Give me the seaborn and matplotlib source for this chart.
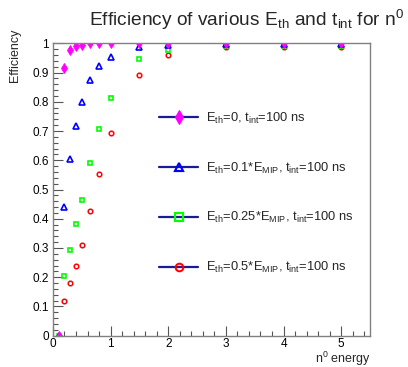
import matplotlib
matplotlib.use("Agg")
import matplotlib.pyplot as plt
from matplotlib.lines import Line2D
from matplotlib.ticker import MultipleLocator, FuncFormatter
import seaborn as sns
import pandas as pd

# neutron energies and efficiencies for each threshold
energy = [0.1, 0.2, 0.3, 0.4, 0.5, 0.65, 0.8, 1.0, 1.5, 2.0, 3.0, 4.0, 5.0]
eff_eth0 = [0.0, 0.914, 0.976, 0.990, 0.995, 1.0, 1.0, 1.0, 1.0, 1.0, 1.0, 1.0, 1.0]
eff_eth01 = [0.0, 0.441, 0.603, 0.717, 0.800, 0.874, 0.921, 0.954, 0.987, 0.995, 0.998, 0.998, 0.998]
eff_eth025 = [0.0, 0.203, 0.293, 0.382, 0.465, 0.590, 0.706, 0.814, 0.946, 0.977, 0.990, 0.990, 0.990]
eff_eth05 = [0.0, 0.118, 0.179, 0.239, 0.310, 0.425, 0.552, 0.693, 0.891, 0.961, 0.986, 0.986, 0.986]

labels = [
    r"E$_{\mathrm{th}}$=0, t$_{\mathrm{int}}$=100 ns",
    r"E$_{\mathrm{th}}$=0.1*E$_{\mathrm{MIP}}$, t$_{\mathrm{int}}$=100 ns",
    r"E$_{\mathrm{th}}$=0.25*E$_{\mathrm{MIP}}$, t$_{\mathrm{int}}$=100 ns",
    r"E$_{\mathrm{th}}$=0.5*E$_{\mathrm{MIP}}$, t$_{\mathrm{int}}$=100 ns",
]

sns.set_theme(style="white")
plt.rcParams["font.family"] = ["Liberation Sans", "DejaVu Sans"]
plt.rcParams["mathtext.fontset"] = "custom"
plt.rcParams["mathtext.rm"] = "Liberation Sans"
plt.rcParams["mathtext.it"] = "Liberation Sans"

frame_col = "#808080"
legend_line = "#1a1a96"

# marker style per series: (marker, colour, filled, size, edge width)
styles = [
    ("d", "#ff00ff", True, 4.8, 0.6),
    ("^", "#0000ff", False, 3.8, 1.2),
    ("s", "#00ff00", False, 3.3, 1.2),
    ("o", "#ff0000", False, 3.3, 1.1),
]
series = [eff_eth0, eff_eth01, eff_eth025, eff_eth05]

fig = plt.figure(figsize=(4.08, 3.67), dpi=100)
ax = fig.add_axes([0.1297, 0.0853, 0.7773, 0.7967])

# draw from the highest threshold up so Eth=0 ends on top
for (mk, col, filled, ms, mew), eff in reversed(list(zip(styles, series))):
    df = pd.DataFrame({"energy": energy, "eff": eff})
    sns.lineplot(data=df, x="energy", y="eff", ax=ax, estimator=None, sort=False,
                 linestyle="none", marker=mk, markersize=ms, markeredgewidth=mew,
                 markerfacecolor=col if filled else "none", markeredgecolor=col,
                 legend=False)

ax.set_xlim(0, 5.5)
ax.set_ylim(0, 1)
ax.xaxis.set_major_locator(MultipleLocator(1))
ax.xaxis.set_minor_locator(MultipleLocator(0.2))
ax.yaxis.set_major_locator(MultipleLocator(0.1))
ax.yaxis.set_minor_locator(MultipleLocator(0.02))
ax.xaxis.set_major_formatter(FuncFormatter(lambda v, p: f"{v:g}"))
ax.yaxis.set_major_formatter(FuncFormatter(lambda v, p: f"{v:g}"))
ax.tick_params(which="both", direction="in", colors="#555555", labelcolor="black",
               labelsize=8.5, top=False, right=False, left=True, bottom=True)
ax.tick_params(which="major", length=7, width=0.8, pad=3)
ax.tick_params(axis="x", which="major", pad=1.5)
ax.tick_params(which="minor", length=3.5, width=0.8)
for s in ax.spines.values():
    s.set_color(frame_col)
    s.set_linewidth(1.0)
ax.set_xlabel("")
ax.set_ylabel("")

fig.text(0.604, 1 - 26 / 367, r"Efficiency of various E$_{\mathrm{th}}$ and t$_{\mathrm{int}}$ for n$^{0}$",
         ha="center", va="baseline", fontsize=13.8)
fig.text(15 / 408, 1 - 29 / 367, "Efficiency", rotation=90, ha="center", va="top", fontsize=9)
fig.text(371 / 408, 1 - 363.5 / 367, r"n$^{0}$ energy", ha="right", va="baseline", fontsize=9)

legend_sizes = [7.5, 6.0, 5.5, 5.5]
handles = []
for (mk, col, filled, ms, mew), lms in zip(styles, legend_sizes):
    handles.append(Line2D([0], [0], color=legend_line, lw=1.6, marker=mk,
                          markersize=lms, markeredgewidth=mew * 1.3,
                          markerfacecolor=col if filled else "none", markeredgecolor=col))
ax.legend(handles, labels, loc="upper left", bbox_to_anchor=(0.335, 0.77),
          frameon=False, fontsize=9.3, handlelength=3.0, handletextpad=0.65,
          labelspacing=2.69, borderpad=0, borderaxespad=0)

fig.savefig("out.png", dpi=100)
